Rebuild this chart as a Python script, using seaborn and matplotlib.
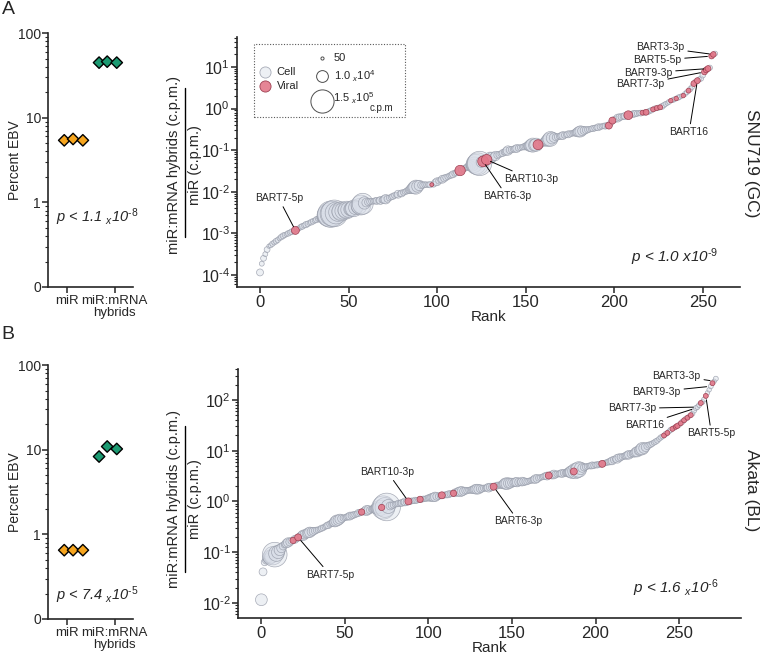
import numpy as np
import pandas as pd
import matplotlib
matplotlib.use('Agg')
import matplotlib.pyplot as plt
import seaborn as sns
from matplotlib.lines import Line2D
from matplotlib.patches import Rectangle
from matplotlib.ticker import FixedLocator, FixedFormatter, LogLocator, NullFormatter, FuncFormatter

# ---- left panels: percent EBV (3 replicates per group) ----
groups = ['miR', 'miR:mRNA\nhybrids']
pct_A_mir = [5.4, 5.6, 5.4]
pct_A_hyb = [44.7, 45.9, 44.7]
pct_B_mir = [0.65, 0.65, 0.65]
pct_B_hyb = [8.3, 10.9, 10.2]

# ---- right panels: log10(hybrid c.p.m. / miR c.p.m.) by rank ----
logratio_A = [
    -3.94, -3.73, -3.60, -3.50, -3.39, -3.31, -3.29, -3.25, -3.22, -3.19,
    -3.16, -3.12, -3.09, -3.06, -3.04, -3.02, -3.00, -2.98, -2.96, -2.95,
    -2.93, -2.90, -2.88, -2.85, -2.83, -2.81, -2.79, -2.77, -2.75, -2.73,
    -2.71, -2.69, -2.67, -2.65, -2.63, -2.62, -2.60, -2.58, -2.57, -2.56,
    -2.54, -2.53, -2.52, -2.51, -2.49, -2.48, -2.47, -2.46, -2.45, -2.44,
    -2.43, -2.42, -2.41, -2.40, -2.38, -2.37, -2.35, -2.32, -2.29, -2.27,
    -2.26, -2.25, -2.24, -2.23, -2.23, -2.22, -2.22, -2.21, -2.21, -2.20,
    -2.19, -2.18, -2.17, -2.15, -2.13, -2.11, -2.09, -2.08, -2.06, -2.05,
    -2.04, -2.02, -2.00, -1.98, -1.96, -1.94, -1.92, -1.90, -1.89, -1.87,
    -1.85, -1.84, -1.84, -1.83, -1.83, -1.83, -1.83, -1.83, -1.82, -1.78,
    -1.76, -1.74, -1.72, -1.70, -1.68, -1.66, -1.64, -1.62, -1.60, -1.58,
    -1.56, -1.54, -1.51, -1.49, -1.47, -1.45, -1.43, -1.41, -1.39, -1.37,
    -1.36, -1.35, -1.34, -1.33, -1.32, -1.29, -1.27, -1.25, -1.23, -1.21,
    -1.19, -1.17, -1.16, -1.14, -1.12, -1.11, -1.09, -1.07, -1.05, -1.03,
    -1.01, -1.00, -0.99, -0.98, -0.97, -0.96, -0.95, -0.94, -0.93, -0.92,
    -0.91, -0.90, -0.90, -0.89, -0.88, -0.88, -0.87, -0.87, -0.85, -0.83,
    -0.81, -0.79, -0.77, -0.75, -0.73, -0.71, -0.70, -0.69, -0.68, -0.67,
    -0.66, -0.65, -0.64, -0.63, -0.62, -0.61, -0.60, -0.59, -0.58, -0.57,
    -0.56, -0.55, -0.54, -0.53, -0.52, -0.51, -0.50, -0.49, -0.48, -0.47,
    -0.46, -0.45, -0.44, -0.43, -0.42, -0.42, -0.41, -0.41, -0.35, -0.29,
    -0.27, -0.25, -0.23, -0.21, -0.20, -0.19, -0.18, -0.17, -0.16, -0.15,
    -0.14, -0.13, -0.12, -0.12, -0.11, -0.11, -0.10, -0.10, -0.09, -0.08,
    -0.06, -0.04, -0.02, 0.00, 0.01, 0.02, 0.03, 0.05, 0.08, 0.11,
    0.13, 0.16, 0.19, 0.20, 0.22, 0.24, 0.26, 0.28, 0.30, 0.31,
    0.35, 0.39, 0.43, 0.47, 0.52, 0.60, 0.64, 0.67, 0.70, 0.72,
    0.80, 0.88, 0.93, 0.96, 0.98, 1.26, 1.30, 1.32,
]
cpm_A = [
    1200, 300, 600, 300, 600, 150, 300, 400, 300, 500,
    400, 300, 500, 600, 400, 300, 500, 400, 600, 300,
    2000, 400, 300, 500, 600, 400, 800, 500, 300, 600,
    500, 400, 800, 600, 1200, 3000, 8000, 30000, 90000, 160000,
    250000, 200000, 260000, 120000, 60000, 30000, 70000, 40000, 20000, 50000,
    30000, 15000, 25000, 40000, 20000, 10000, 30000, 80000, 100000, 12000,
    3000, 1200, 800, 600, 500, 800, 1200, 600, 2000, 800,
    2000, 4000, 1200, 600, 500, 800, 600, 400, 2000, 500,
    1200, 600, 500, 800, 1200, 3000, 6000, 12000, 20000, 10000,
    6000, 1200, 800, 600, 500, 400, 800, 120, 600, 1200,
    2000, 800, 600, 2000, 1200, 800, 600, 500, 800, 1200,
    600, 800, 1200, 6000, 1200, 800, 600, 1200, 2000, 4000,
    10000, 30000, 80000, 120000, 180000, 6000, 7000, 8000, 6000, 4000,
    10000, 5000, 2000, 4000, 1200, 800, 600, 1200, 800, 2000,
    4000, 1200, 800, 600, 1200, 2000, 800, 600, 500, 800,
    1200, 2000, 6000, 12000, 20000, 10000, 15000, 5000, 3000, 1200,
    2000, 4000, 8000, 15000, 25000, 10000, 4000, 1200, 800, 600,
    1200, 2000, 800, 600, 1200, 800, 500, 600, 1200, 3000,
    6000, 8000, 4000, 2000, 1200, 800, 600, 500, 800, 600,
    500, 1200, 600, 400, 500, 800, 600, 1200, 600, 1200,
    800, 600, 2000, 1200, 800, 600, 1200, 500, 3000, 800,
    600, 1200, 800, 500, 400, 600, 300, 400, 600, 500,
    400, 500, 300, 400, 300, 400, 300, 600, 400, 300,
    200, 300, 200, 300, 300, 200, 400, 300, 200, 200,
    300, 300, 300, 400, 300, 600, 500, 600, 300, 400,
    500, 600, 600, 600, 400, 500, 500, 300,
]
viral_A = [20, 97, 113, 126, 128, 157, 197, 199, 208, 216, 218, 222, 224, 226,
           232, 235, 239, 242, 245, 247, 251, 252, 253, 255, 256]

logratio_B = [
    -1.94, -1.39, -1.20, -1.16, -1.12, -1.10, -1.09, -1.07, -1.05, -1.03,
    -1.00, -0.96, -0.92, -0.88, -0.85, -0.83, -0.81, -0.80, -0.78, -0.77,
    -0.75, -0.73, -0.71, -0.70, -0.68, -0.67, -0.65, -0.64, -0.62, -0.61,
    -0.60, -0.59, -0.58, -0.57, -0.56, -0.55, -0.53, -0.52, -0.50, -0.48,
    -0.47, -0.45, -0.43, -0.42, -0.40, -0.38, -0.37, -0.35, -0.34, -0.33,
    -0.32, -0.31, -0.30, -0.29, -0.28, -0.27, -0.26, -0.25, -0.23, -0.22,
    -0.21, -0.20, -0.19, -0.18, -0.17, -0.17, -0.16, -0.15, -0.14, -0.14,
    -0.13, -0.13, -0.12, -0.12, -0.12, -0.11, -0.10, -0.09, -0.08, -0.07,
    -0.06, -0.05, -0.04, -0.04, -0.03, -0.02, -0.01, -0.01, 0.00, 0.00,
    0.01, 0.01, 0.02, 0.02, 0.03, 0.04, 0.04, 0.05, 0.05, 0.06,
    0.07, 0.07, 0.08, 0.08, 0.09, 0.10, 0.10, 0.11, 0.12, 0.12,
    0.13, 0.13, 0.14, 0.15, 0.15, 0.16, 0.17, 0.18, 0.19, 0.19,
    0.20, 0.20, 0.21, 0.21, 0.22, 0.22, 0.23, 0.23, 0.24, 0.24,
    0.24, 0.25, 0.25, 0.26, 0.26, 0.27, 0.27, 0.28, 0.28, 0.29,
    0.30, 0.31, 0.32, 0.32, 0.33, 0.34, 0.35, 0.35, 0.36, 0.36,
    0.37, 0.37, 0.38, 0.38, 0.38, 0.38, 0.39, 0.39, 0.39, 0.39,
    0.40, 0.41, 0.42, 0.43, 0.44, 0.45, 0.46, 0.47, 0.48, 0.49,
    0.50, 0.50, 0.51, 0.52, 0.52, 0.53, 0.53, 0.54, 0.54, 0.55,
    0.55, 0.56, 0.56, 0.57, 0.57, 0.58, 0.58, 0.59, 0.60, 0.61,
    0.63, 0.65, 0.66, 0.67, 0.68, 0.69, 0.70, 0.70, 0.71, 0.71,
    0.72, 0.72, 0.73, 0.73, 0.74, 0.75, 0.76, 0.77, 0.78, 0.79,
    0.80, 0.82, 0.83, 0.84, 0.86, 0.87, 0.88, 0.89, 0.90, 0.91,
    0.92, 0.93, 0.94, 0.95, 0.97, 0.98, 1.00, 1.02, 1.04, 1.05,
    1.07, 1.09, 1.11, 1.12, 1.14, 1.16, 1.18, 1.20, 1.23, 1.26,
    1.28, 1.30, 1.33, 1.35, 1.38, 1.41, 1.43, 1.45, 1.47, 1.49,
    1.51, 1.54, 1.57, 1.60, 1.63, 1.65, 1.68, 1.70, 1.73, 1.79,
    1.84, 1.86, 1.90, 1.94, 1.96, 2.01, 2.08, 2.14, 2.20, 2.27,
    2.33, 2.37, 2.42,
]
cpm_B = [
    10000, 2000, 1200, 2000, 4000, 20000, 15000, 60000, 190000, 30000,
    15000, 8000, 4000, 2000, 1200, 3000, 4000, 2000, 1200, 800,
    2000, 1200, 1200, 2000, 3000, 6000, 4000, 3000, 5000, 6000,
    3000, 2000, 1200, 800, 600, 500, 800, 600, 500, 800,
    1200, 800, 1200, 2000, 6000, 8000, 6000, 5000, 2000, 800,
    600, 800, 1200, 2000, 1200, 1000, 800, 600, 1200, 800,
    800, 1200, 2000, 5000, 3000, 1200, 800, 2000, 4000, 8000,
    8000, 30000, 800, 150000, 80000, 300000, 20000, 2000, 1200, 800,
    500, 600, 800, 600, 1200, 800, 2000, 1200, 1200, 800,
    600, 500, 800, 600, 500, 800, 600, 500, 400, 600,
    800, 1200, 2000, 3000, 4000, 2000, 800, 600, 1200, 800,
    600, 800, 1200, 800, 600, 800, 2000, 1200, 3000, 5000,
    4000, 2000, 1200, 800, 600, 800, 1200, 2000, 4000, 5000,
    4000, 2000, 1200, 800, 600, 1200, 3000, 2000, 1200, 1200,
    800, 1200, 800, 600, 2000, 4000, 8000, 10000, 6000, 5000,
    3000, 2000, 3000, 4000, 2000, 1200, 3000, 2000, 1200, 800,
    600, 500, 800, 1200, 3000, 2000, 800, 600, 500, 800,
    1200, 2000, 1200, 800, 2000, 3000, 1200, 800, 600, 1200,
    2000, 1200, 800, 2000, 4000, 8000, 15000, 1200, 30000, 25000,
    30000, 12000, 3000, 1200, 800, 600, 500, 800, 1200, 800,
    600, 800, 600, 500, 1200, 600, 500, 600, 800, 1200,
    2000, 1200, 800, 3000, 2000, 1200, 800, 600, 1200, 2000,
    3000, 1200, 800, 2000, 4000, 6000, 4000, 8000, 12000, 6000,
    3000, 1200, 800, 600, 500, 400, 500, 400, 300, 400,
    300, 300, 400, 300, 300, 400, 300, 300, 300, 400,
    300, 300, 400, 300, 300, 300, 200, 300, 300, 300,
    300, 300, 300, 300, 300, 300, 300, 200, 200, 300,
    300, 200, 300,
]
viral_B = [19, 22, 60, 72, 88, 95, 108, 115, 139, 172, 187, 204, 241, 243, 246,
           248, 249, 251, 253, 255, 257, 263, 266, 270]

# labelled viral miRNAs: (name, rank, text offset in points)
labels_A = [('BART7-5p', 20, (-12, 23)), ('BART6-3p', 126, (17, -25)),
            ('BART10-3p', 128, (32, -14)), ('BART3-3p', 256, (-38, 5)),
            ('BART5-5p', 255, (-39, -3)), ('BART9-3p', 253, (-43, -3)),
            ('BART7-3p', 251, (-46, -9)), ('BART16', 247, (-6, -37))]
labels_B = [('BART7-5p', 22, (23, -27)), ('BART10-3p', 88, (-15, 21)),
            ('BART6-3p', 139, (18, -25)), ('BART3-3p', 271, (-27, 4)),
            ('BART9-3p', 269, (-39, -4)), ('BART7-3p', 261, (-47, -1)),
            ('BART16', 260, (-37, -12)), ('BART5-5p', 266, (4, -27))]

sns.set_style('ticks')
plt.rcParams['font.family'] = ['Liberation Sans', 'DejaVu Sans']
plt.rcParams['mathtext.fontset'] = 'custom'
plt.rcParams['mathtext.rm'] = 'Liberation Sans'
plt.rcParams['mathtext.it'] = 'Liberation Sans:italic'
plt.rcParams['mathtext.bf'] = 'Liberation Sans:bold'
plt.rcParams['axes.linewidth'] = 1.2

ORANGE = '#F6A51E'
GREEN = '#1C9A72'
CELL_FC = (0.85, 0.87, 0.91, 0.45)
CELL_EC = (0.60, 0.62, 0.67, 0.85)
VIR_FC = (0.89, 0.47, 0.54, 0.9)
VIR_EC = (0.62, 0.25, 0.32, 1.0)


def pow10_label(v, pos):
    e = int(round(np.log10(v)))
    return r'10$^{%s}$' % (('\u2010%d' % -e) if e < 0 else str(e))


def ptxt(mant, expo, small_x=True):
    x = r'$_{x}$' if small_x else 'x'
    return 'p < %s %s10$^{\u2010%d}$' % (mant, x, expo)


fig = plt.figure(figsize=(7.62, 6.59), dpi=100)


def pct_panel(rect, mir, hyb, ptext, py):
    ax = fig.add_axes(rect)
    df = pd.DataFrame({'x': np.r_[np.array([-0.06, 0.125, 0.33]), 1 + np.array([-0.33, -0.16, 0.04])],
                       'y': mir + hyb,
                       'g': ['miR'] * 3 + ['hyb'] * 3})
    sns.scatterplot(data=df, x='x', y='y', hue='g', palette={'miR': ORANGE, 'hyb': GREEN},
                    marker='D', s=34, edgecolor='black', linewidth=1.0, legend=False, ax=ax, zorder=3)
    ax.set_yscale('log')
    ax.set_ylim(0.1, 100)
    ax.set_xlim(-0.40, 1.38)
    ax.yaxis.set_major_locator(FixedLocator([0.1, 1, 10, 100]))
    ax.yaxis.set_major_formatter(FixedFormatter(['0', '1', '10', '100']))
    ax.yaxis.set_minor_locator(LogLocator(subs=np.arange(2, 10)))
    ax.yaxis.set_minor_formatter(NullFormatter())
    ax.set_xticks([0, 1])
    ax.set_xticklabels(groups, fontsize=9.5, linespacing=1.0)
    ax.tick_params(axis='y', labelsize=10, length=4, width=1.1, pad=1)
    ax.tick_params(axis='y', which='minor', length=2, width=0.8)
    ax.tick_params(axis='x', length=4, width=1.1, pad=2)
    ax.set_xlabel('')
    ax.set_ylabel('Percent EBV', fontsize=10)
    ax.yaxis.set_label_coords(-0.31, 0.5)
    ax.text(0.58, py, ptext, transform=ax.transAxes, ha='center', va='center',
            fontsize=10.5, style='italic', math_fontfamily='custom')
    sns.despine(ax=ax)
    return ax


def bubble_panel(rect, logy, cpm, viral, xlim, ylim, labels, ptext):
    ax = fig.add_axes(rect)
    df = pd.DataFrame({'rank': np.arange(len(logy)), 'ratio': 10 ** np.array(logy), 'cpm': cpm})
    df['area'] = 0.72 * np.sqrt(df['cpm'])
    df['viral'] = df['rank'].isin(viral)
    for is_vir, fc, ec in [(False, CELL_FC, CELL_EC), (True, VIR_FC, VIR_EC)]:
        sub = df[df['viral'] == is_vir]
        sns.scatterplot(data=sub, x='rank', y='ratio', size='area', sizes=(0, 1000),
                        size_norm=(0, 1000), color=fc, edgecolor=ec, linewidth=0.5,
                        legend=False, ax=ax)
    ax.set_yscale('log')
    ax.set_xlim(*xlim)
    ax.set_ylim(*ylim)
    ax.yaxis.set_major_locator(LogLocator(base=10, numticks=12))
    ax.yaxis.set_major_formatter(FuncFormatter(pow10_label))
    ax.yaxis.set_minor_locator(LogLocator(base=10, subs=np.arange(2, 10), numticks=12))
    ax.yaxis.set_minor_formatter(NullFormatter())
    ax.set_xticks([0, 50, 100, 150, 200, 250])
    ax.tick_params(axis='x', labelsize=12, length=4, width=1.1, pad=2)
    ax.tick_params(axis='y', labelsize=11.5, length=4, width=1.1, pad=1)
    ax.tick_params(axis='y', which='minor', length=2, width=0.8)
    ax.set_xlabel('Rank', fontsize=11, labelpad=0)
    ax.set_ylabel('')
    for name, r, off in labels:
        ax.annotate(name, xy=(r, 10 ** logy[r]), xytext=off, textcoords='offset points',
                    ha='center', va='center', fontsize=7.5,
                    arrowprops=dict(arrowstyle='-', color='black', lw=0.7,
                                    shrinkA=0, shrinkB=3))
    ax.text(0.87, 0.12, ptext, transform=ax.transAxes, ha='center', va='center',
            fontsize=11, style='italic')
    sns.despine(ax=ax)
    return ax


pct_panel([0.063, 0.5645, 0.1115, 0.3854], pct_A_mir, pct_A_hyb, ptxt('1.1', 8), 0.276)
pct_panel([0.063, 0.0607, 0.1115, 0.3854], pct_B_mir, pct_B_hyb, ptxt('7.4', 5), 0.094)

axA = bubble_panel([0.311, 0.5645, 0.660, 0.3794], logratio_A, cpm_A, viral_A,
                   (-13, 271), (10 ** -4.29, 10 ** 1.72), labels_A, ptxt('1.0', 9, False))
axB = bubble_panel([0.3123, 0.0622, 0.660, 0.3778], logratio_B, cpm_B, viral_B,
                   (-14, 287), (10 ** -2.30, 10 ** 2.61), labels_B, ptxt('1.6', 6))

fig.text(0.986, 0.752, 'SNU719 (GC)', rotation=-90, ha='center', va='center', fontsize=12.5)
fig.text(0.986, 0.256, 'Akata (BL)', rotation=-90, ha='center', va='center', fontsize=12.5)

# fraction-style y labels for the rank panels
for yc, yl0, yl1 in [(0.75, 0.640, 0.866), (0.243, 0.132, 0.354)]:
    fig.text(0.229, yc, 'miR:mRNA hybrids (c.p.m.)', rotation=90, ha='center', va='center', fontsize=10.5)
    fig.text(0.256, yc, 'miR (c.p.m.)', rotation=90, ha='center', va='center', fontsize=10.5)
    fig.add_artist(Line2D([0.243, 0.243], [yl0, yl1], color='black', lw=1.0))

fig.text(0.002, 0.998, 'A', ha='left', va='top', fontsize=14)
fig.text(0.002, 0.505, 'B', ha='left', va='top', fontsize=14)

# bubble legend in panel A
tr = axA.transAxes
axA.add_patch(Rectangle((0.034, 0.68), 0.300, 0.292, transform=tr, fill=False,
                        ls=(0, (1, 1.5)), lw=0.8, ec='0.35', clip_on=False))
axA.scatter([0.0557], [0.86], s=0.72 * np.sqrt(8000), transform=tr, color=CELL_FC,
            edgecolor=CELL_EC, lw=0.6, clip_on=False)
axA.scatter([0.0557], [0.804], s=0.72 * np.sqrt(8000), transform=tr, color=VIR_FC,
            edgecolor=VIR_EC, lw=0.6, clip_on=False)
axA.text(0.079, 0.86, 'Cell', transform=tr, va='center', fontsize=8)
axA.text(0.079, 0.804, 'Viral', transform=tr, va='center', fontsize=8)
for c, yy, lab in [(50, 0.916, '50'), (1.0e4, 0.844, r'1.0 $_{x}$10$^{4}$'),
                   (1.5e5, 0.744, r'1.5 $_{x}$10$^{5}$')]:
    axA.scatter([0.169], [yy], s=0.72 * np.sqrt(c), transform=tr, facecolor='white',
                edgecolor='0.3', lw=0.7, clip_on=False)
    axA.text(0.193 if c < 1e5 else 0.191, yy if c < 1e5 else 0.755, lab, transform=tr,
             va='center', fontsize=8)
axA.text(0.288, 0.716, 'c.p.m', transform=tr, ha='center', va='center', fontsize=7)

fig.savefig('out.png', dpi=100)
